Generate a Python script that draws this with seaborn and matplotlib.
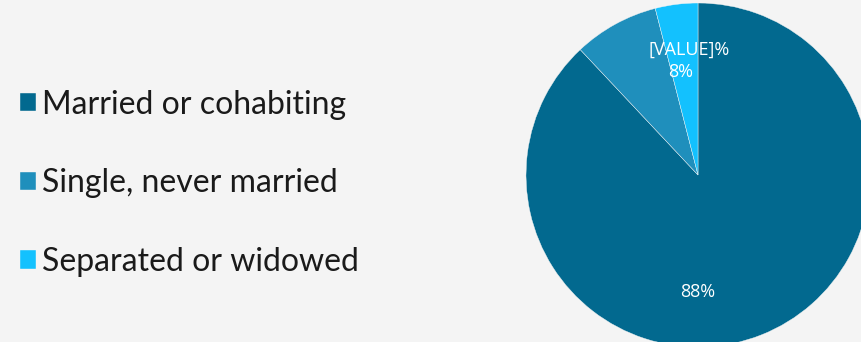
import matplotlib
matplotlib.use("Agg")
import matplotlib.pyplot as plt
import seaborn as sns

categories = ["Married or cohabiting", "Single, never married", "Separated or widowed"]
values = [88, 8, 4]
labels = ["88%", "8%", "[VALUE]%"]
colors = ["#02698F", "#1F8FBC", "#13C1FE"]

sns.set_style("white")
plt.rcParams["font.family"] = ["Lato", "DejaVu Sans"]
palette = sns.color_palette(colors)

W, H = 861, 342
fig = plt.figure(figsize=(W / 100, H / 100), dpi=100)
fig.patch.set_facecolor("#f4f4f4")
ax = fig.add_axes([0, 0, 1, 1])
ax.set_facecolor("#f4f4f4")

cx, cy, r = 698, 175, 172
wedges, _ = ax.pie(values, colors=palette, startangle=90, counterclock=False,
                   radius=1, center=(0, 0),
                   wedgeprops=dict(edgecolor="#f4f4f4", linewidth=0.3))
ax.set_aspect("auto")
ax.set_xlim((0 - cx) / r, (W - cx) / r)
ax.set_ylim(-(H - cy) / r, cy / r)
ax.axis("off")

# data labels (positions in pie units)
label_pos = [(0.0, -0.68), (-0.10, 0.60), (-0.05, 0.73)]
for (x, y), t in zip(label_pos, labels):
    ax.text(x, y, t, ha="center", va="center", color="white", fontsize=13,
            family=["Open Sans", "DejaVu Sans"])

leg = fig.legend(wedges, categories, loc="upper left", bbox_to_anchor=(0.008, 0.775),
                 frameon=False, fontsize=23, handlelength=0.5, handleheight=0.5,
                 handletextpad=0.2, labelspacing=1.52, borderaxespad=0)
for t in leg.get_texts():
    t.set_color("#1a1a1a")

fig.savefig("out.png", dpi=100, facecolor=fig.get_facecolor())
